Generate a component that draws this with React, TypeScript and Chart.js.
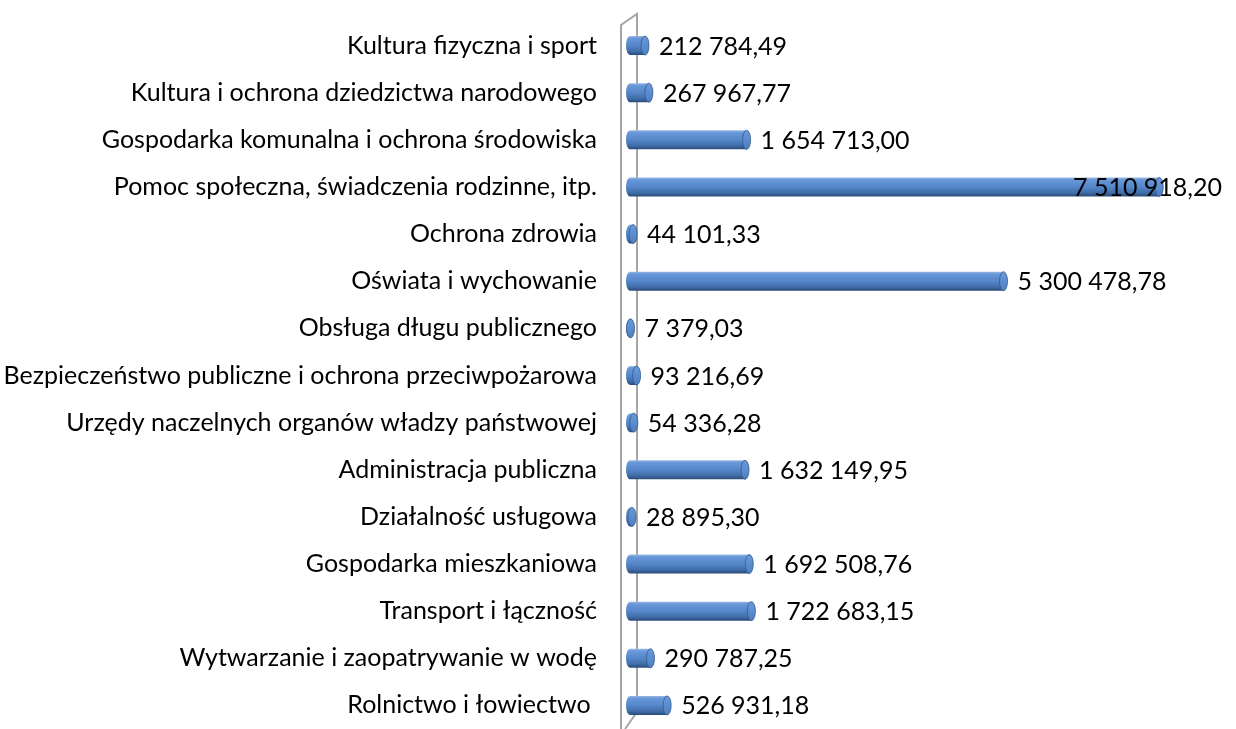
import React, { useEffect, useRef } from "react";
import { Chart, registerables } from "chart.js";

Chart.register(...registerables);

const categories: string[] = [
  "Kultura fizyczna i sport",
  "Kultura i ochrona dziedzictwa narodowego",
  "Gospodarka komunalna i ochrona środowiska",
  "Pomoc społeczna, świadczenia rodzinne, itp.",
  "Ochrona zdrowia",
  "Oświata i wychowanie",
  "Obsługa długu publicznego",
  "Bezpieczeństwo publiczne i ochrona przeciwpożarowa",
  "Urzędy naczelnych organów władzy państwowej",
  "Administracja publiczna",
  "Działalność usługowa",
  "Gospodarka mieszkaniowa",
  "Transport i łączność",
  "Wytwarzanie i zaopatrywanie w wodę",
  "Rolnictwo i łowiectwo ",
];

const values: number[] = [
  212784.49, 267967.77, 1654713.0, 7510918.2, 44101.33, 5300478.78, 7379.03,
  93216.69, 54336.28, 1632149.95, 28895.3, 1692508.76, 1722683.15, 290787.25,
  526931.18,
];

const FONT = "Lato, 'Open Sans', sans-serif";
const FONT_SIZE = 25;

function formatPL(v: number): string {
  const [i, d] = v.toFixed(2).split(".");
  const grouped = i.replace(/\B(?=(\d{3})+(?!\d))/g, " ");
  return grouped + "," + d;
}

const cylinderPlugin = {
  id: "cylinders",
  beforeDatasetsDraw(chart: any) {
    const { ctx, chartArea } = chart;
    const L = chartArea.left;
    ctx.save();
    ctx.strokeStyle = "#a6a6a6";
    ctx.lineWidth = 2;
    ctx.beginPath();
    ctx.moveTo(L - 9, 729);
    ctx.lineTo(L - 9, 25);
    ctx.lineTo(L + 7, 14);
    ctx.lineTo(L + 7, 712);
    ctx.lineTo(L - 5, 729);
    ctx.stroke();
    ctx.restore();
  },
  afterDatasetsDraw(chart: any) {
    const { ctx } = chart;
    const meta = chart.getDatasetMeta(0);
    const rx = 4;
    ctx.save();
    meta.data.forEach((el: any, i: number) => {
      const x = el.x;
      const base = el.base;
      const y = el.y;
      const h = el.height;
      const top = y - h / 2;
      const bot = y + h / 2;
      const g = ctx.createLinearGradient(0, top, 0, bot);
      g.addColorStop(0, "#9bb9e2");
      g.addColorStop(0.12, "#6898da");
      g.addColorStop(0.5, "#5586c9");
      g.addColorStop(0.8, "#416ea9");
      g.addColorStop(1, "#2a4a78");
      ctx.beginPath();
      ctx.moveTo(base, top);
      ctx.lineTo(x, top);
      ctx.lineTo(x, bot);
      ctx.lineTo(base, bot);
      ctx.ellipse(base, y, rx, h / 2, 0, Math.PI / 2, (3 * Math.PI) / 2, false);
      ctx.closePath();
      ctx.fillStyle = g;
      ctx.fill();
      // end cap
      ctx.beginPath();
      ctx.ellipse(x, y, rx, h / 2, 0, 0, Math.PI * 2);
      const g2 = ctx.createLinearGradient(0, top, 0, bot);
      g2.addColorStop(0, "#6a9ad9");
      g2.addColorStop(1, "#4d7fc2");
      ctx.fillStyle = g2;
      ctx.fill();
      ctx.strokeStyle = "#34598c";
      ctx.lineWidth = 0.8;
      ctx.stroke();

      // value label
      const text = formatPL(values[i]);
      ctx.font = `${FONT_SIZE}px ${FONT}`;
      ctx.fillStyle = "#000";
      ctx.textBaseline = "middle";
      ctx.textAlign = "left";
      const w = ctx.measureText(text).width;
      let lx = x + rx + 10;
      if (lx + w > 1222) lx = 1222 - w;
      ctx.fillText(text, lx, y + 1);
    });
    ctx.restore();
  },
};

export default function App() {
  const ref = useRef<HTMLCanvasElement | null>(null);
  useEffect(() => {
    document.body.style.margin = "0";
    const canvas = ref.current!;
    const chart = new Chart(canvas, {
      type: "bar",
      data: {
        labels: categories,
        datasets: [
          {
            data: values,
            backgroundColor: "transparent",
            borderWidth: 0,
            barThickness: 19,
          },
        ],
      },
      options: {
        indexAxis: "y",
        animation: false,
        responsive: false,
        devicePixelRatio: 1,
        layout: { padding: { top: 22, bottom: 0, left: 0, right: 0 } },
        plugins: {
          legend: { display: false },
          tooltip: { enabled: false },
          title: { display: false },
        },
        scales: {
          x: {
            display: false,
            min: 0,
            max: 8600000,
          },
          y: {
            afterFit(scale: any) {
              scale.width = 630;
              scale.paddingTop = 0;
              scale.paddingBottom = 0;
            },
            grid: { display: false, drawTicks: false },
            border: { display: false },
            ticks: {
              padding: 33,
              color: "#000",
              font: { family: FONT, size: FONT_SIZE },
              autoSkip: false,
            },
          },
        },
      },
      plugins: [cylinderPlugin],
    });
    return () => chart.destroy();
  }, []);
  return (
    <div style={{ width: 1236, height: 729, position: "relative" }}>
      <canvas ref={ref} width={1236} height={729} />
    </div>
  );
}
